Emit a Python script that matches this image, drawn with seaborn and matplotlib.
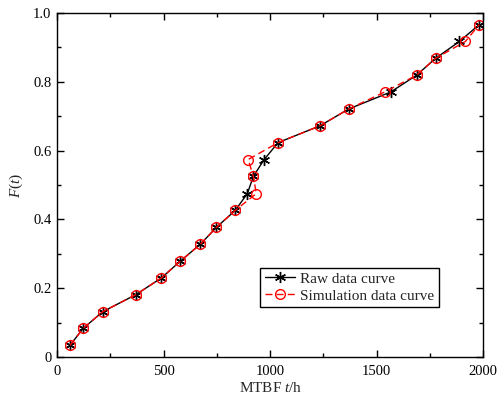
import numpy as np
import matplotlib
matplotlib.use('Agg')
import matplotlib.pyplot as plt
import seaborn as sns
from matplotlib.ticker import MultipleLocator

# values
raw_t = [61, 122, 215, 369, 490, 579, 673, 748, 836, 893,
         921, 972, 1037, 1234, 1369, 1565, 1687, 1776, 1888, 1981]
sim_t = [61, 122, 215, 369, 490, 579, 673, 748, 836, 935,
         921, 897, 1037, 1234, 1369, 1537, 1687, 1776, 1916, 1981]
F = [0.034, 0.083, 0.132, 0.181, 0.230, 0.279, 0.328, 0.377, 0.426, 0.475,
     0.525, 0.574, 0.623, 0.672, 0.721, 0.770, 0.819, 0.868, 0.917, 0.966]

sns.set_theme(style='ticks')
plt.rcParams['font.family'] = ['Liberation Serif', 'DejaVu Serif']
plt.rcParams['mathtext.fontset'] = 'custom'
plt.rcParams['mathtext.rm'] = 'Liberation Serif'
plt.rcParams['mathtext.it'] = 'Liberation Serif:italic'
plt.rcParams['font.size'] = 11

fig = plt.figure(figsize=(4.98, 4.03), dpi=100)
ax = fig.add_axes([0.1145, 0.114, 0.856, 0.854])

sns.lineplot(x=raw_t, y=F, sort=False, ax=ax, color='black', linewidth=1.0,
             marker=(6, 2, 0), markersize=8, markeredgewidth=1.0,
             markeredgecolor='black', label='Raw data curve')
sns.lineplot(x=sim_t, y=F, sort=False, ax=ax, color='red', linewidth=1.0,
             linestyle=(0, (5, 3)), marker='o', markersize=7,
             markerfacecolor='none', markeredgecolor='red', markeredgewidth=1.0,
             label='Simulation data curve')

ax.set_xlim(0, 2000)
ax.set_ylim(0, 1.0)
ax.xaxis.set_minor_locator(MultipleLocator(250))
ax.yaxis.set_minor_locator(MultipleLocator(0.1))
ax.set_xticks([0, 500, 1000, 1500, 2000])
ax.set_xticklabels(['0', '500', '1000', '1500', '2000'])
ax.set_yticks([0, 0.2, 0.4, 0.6, 0.8, 1.0])
ax.set_yticklabels(['0', '0.2', '0.4', '0.6', '0.8', '1.0'])

ax.tick_params(which='both', direction='in', top=True, right=True,
               colors='black', labelsize=10.5, width=1.0)
ax.tick_params(which='major', length=5)
ax.tick_params(axis='x', which='major', pad=6)
ax.tick_params(axis='y', which='major', pad=4)
ax.tick_params(which='minor', length=3)
for s in ax.spines.values():
    s.set_visible(True)
    s.set_color('black')
    s.set_linewidth(1.0)

ax.set_xlabel('MTBF $\\mathit{t}$/h', fontsize=11, labelpad=2)
ax.set_ylabel('$\\mathit{F(t)}$', fontsize=11, labelpad=6)

leg = ax.legend(loc='lower right', bbox_to_anchor=(0.895, 0.145), fontsize=11,
                frameon=True, fancybox=False, edgecolor='black', framealpha=1,
                handlelength=2.0, handletextpad=0.3, borderpad=0.3,
                labelspacing=0.2, borderaxespad=0)
leg.get_frame().set_linewidth(1.0)

fig.savefig('out.png', dpi=100)
